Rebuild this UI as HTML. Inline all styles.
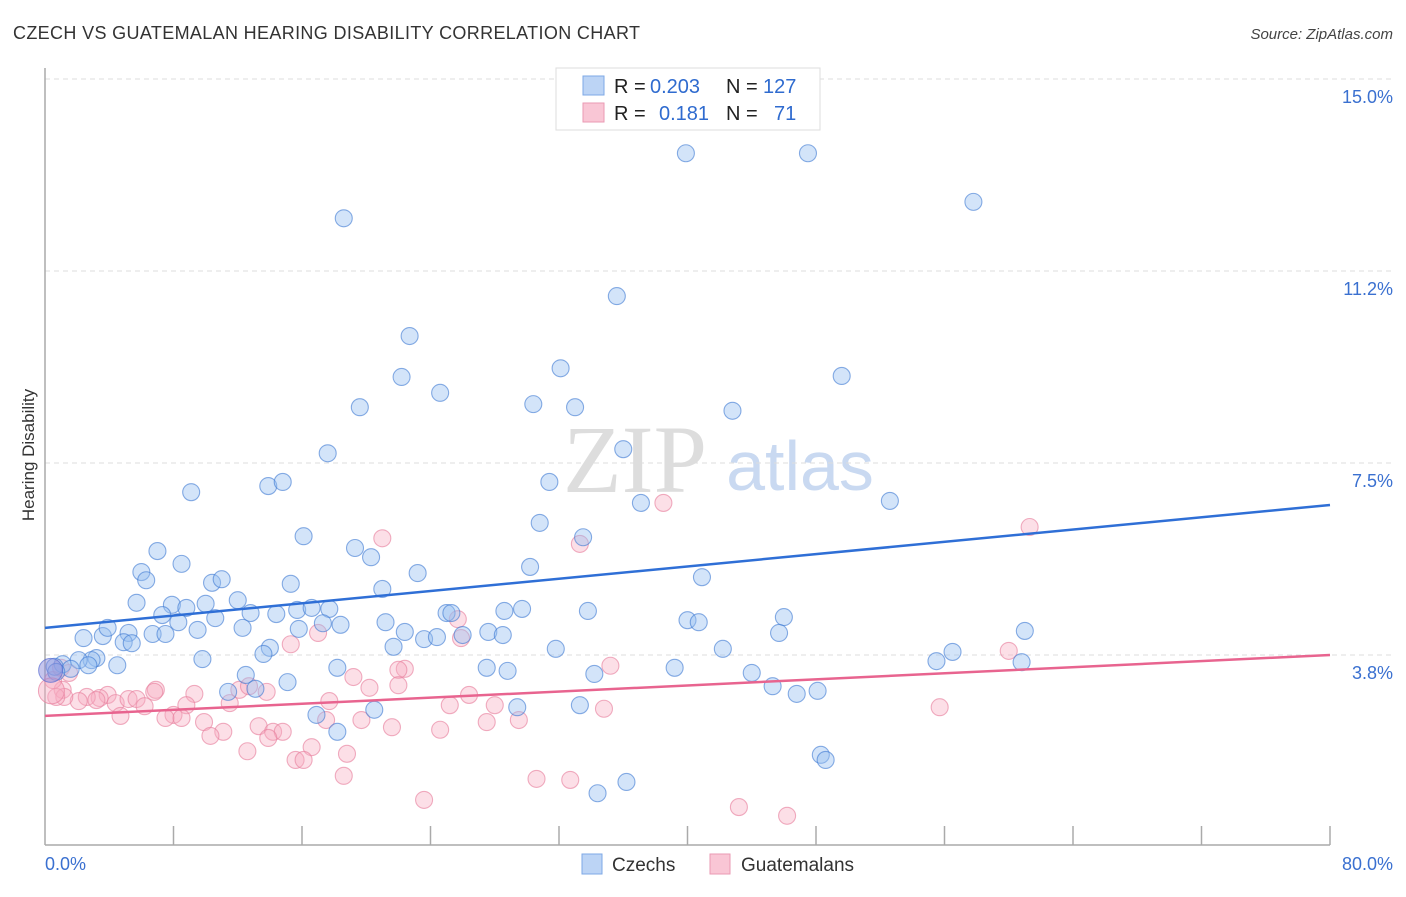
<!DOCTYPE html>
<html><head><meta charset="utf-8"><style>
body{margin:0;background:#fff;font-family:"Liberation Sans",sans-serif}
svg text{font-family:"Liberation Sans",sans-serif}
</style></head><body>
<svg id="chart" width="1406" height="892" xmlns="http://www.w3.org/2000/svg">
<text x="13" y="39" font-size="18" fill="#333" textLength="627">CZECH VS GUATEMALAN HEARING DISABILITY CORRELATION CHART</text>
<text x="1393" y="39" font-size="15" fill="#444" text-anchor="end" font-style="italic">Source: ZipAtlas.com</text>
<text transform="translate(34,455) rotate(-90)" font-size="17" fill="#333" text-anchor="middle">Hearing Disability</text>
<g><text x="635" y="492" font-size="96" fill="#ddd" text-anchor="middle" style="font-family:'Liberation Serif',serif">ZIP</text><text x="800" y="490" font-size="70" fill="#c9d9f1" text-anchor="middle">atlas</text></g>
<g id="grid"></g><g id="axes"></g><g id="pts"></g><g id="lines"></g>
<g>
<rect x="556" y="68" width="264" height="62" fill="#fff" stroke="#ddd"/>
<rect x="583" y="76" width="21" height="19" fill="#bcd4f5" stroke="#7ea8e6"/>
<rect x="583" y="103" width="21" height="19" fill="#f9c6d5" stroke="#ea9ab3"/>
<text x="614" y="93" font-size="20" fill="#222">R =</text>
<text x="650" y="93" font-size="20" fill="#2f6bcf">0.203</text>
<text x="726" y="93" font-size="20" fill="#222">N =</text>
<text x="763" y="93" font-size="20" fill="#2f6bcf">127</text>
<text x="614" y="120" font-size="20" fill="#222">R =</text>
<text x="659" y="120" font-size="20" fill="#2f6bcf">0.181</text>
<text x="726" y="120" font-size="20" fill="#222">N =</text>
<text x="774" y="120" font-size="20" fill="#2f6bcf">71</text>
</g>
<g>
<rect x="582" y="854" width="20" height="20" fill="#bcd4f5" stroke="#7ea8e6"/>
<text x="612" y="871" font-size="19" fill="#333">Czechs</text>
<rect x="710" y="854" width="20" height="20" fill="#f9c6d5" stroke="#ea9ab3"/>
<text x="741" y="871" font-size="19" fill="#333">Guatemalans</text>
</g>
</svg>
<script>
const yTicks=[3.8,7.5,11.2,15.0];
const yTickVals=[3.75,7.5,11.25,15];
const xTickLabels=["0.0%","80.0%"];
const czechX=[39.9,47.5,57.8,18.6,35.6,22.7,22.2,32.1,49.6,24.6,19.6,30.4,33.0,42.8,17.6,36.0,31.4,9.1,13.9,14.8,37.1,52.6,30.8,16.1,33.5,7.0,19.3,20.3,8.5,6.0,6.3,30.2,23.2,40.9,10.4,11.0,15.3,21.0,5.7,7.9,8.8,10.0,12.0,7.3,8.3,10.6,12.8,14.4,15.7,16.6,17.7,25.0,25.3,28.6,29.7,33.8,46.0,17.3,18.4,9.5,12.3,15.8,21.2,22.4,27.6,28.5,26.0,23.6,24.4,6.7,7.5,2.4,3.6,5.2,3.9,4.9,5.4,40.0,40.7,45.7,61.0,14.0,13.6,21.7,31.8,42.2,56.5,9.8,55.5,60.8,3.2,2.9,2.1,1.1,2.7,4.5,0.6,1.6,0.7,18.2,27.5,28.8,34.2,39.2,44.0,12.5,15.1,11.4,13.1,45.3,46.8,48.1,33.3,29.4,20.5,16.9,18.2,48.3,48.6,36.2,34.4];
const czechY=[13.55,13.55,12.60,12.28,10.76,9.98,9.18,9.35,9.20,8.87,8.59,8.65,8.59,8.52,7.69,7.77,7.13,6.93,7.05,7.13,6.72,6.76,6.33,6.07,6.05,5.78,5.84,5.66,5.53,5.37,5.21,5.47,5.35,5.27,5.16,5.23,5.14,5.04,4.77,4.73,4.67,4.75,4.82,4.53,4.39,4.47,4.57,4.55,4.63,4.67,4.65,4.57,4.57,4.61,4.65,4.61,4.49,4.37,4.34,4.24,4.28,4.26,4.39,4.20,4.20,4.14,4.14,4.06,4.10,4.16,4.16,4.08,4.12,4.18,4.28,4.00,3.98,4.43,4.39,4.18,4.22,3.89,3.77,3.91,3.87,3.87,3.81,3.67,3.63,3.61,3.69,3.65,3.65,3.57,3.55,3.55,3.52,3.48,3.42,3.50,3.50,3.44,3.38,3.50,3.40,3.36,3.22,3.03,3.09,3.14,2.99,3.05,2.77,2.73,2.68,2.58,2.25,1.80,1.70,1.27,1.05];
const guatX=[38.5,61.3,21.0,33.3,25.7,25.9,15.3,17.0,35.2,22.4,22.0,19.2,60.0,1.1,0.5,1.0,1.5,6.9,6.8,9.3,3.9,3.4,2.6,3.2,2.1,4.4,5.2,5.7,6.2,4.7,8.8,8.0,7.5,8.5,9.9,11.5,12.1,12.7,13.8,17.7,20.2,22.0,26.4,25.2,28.0,24.6,21.6,19.7,17.5,13.3,14.2,14.8,13.9,11.1,10.3,12.6,16.6,18.8,15.6,16.1,18.6,30.6,32.7,23.6,43.2,46.2,55.7,34.8,29.5,27.5,1.2,0.7];
const guatY=[6.72,6.25,6.03,5.92,4.45,4.08,3.96,4.18,3.54,3.48,3.46,3.32,3.83,3.07,3.26,3.50,3.40,3.07,3.03,2.99,2.97,2.91,2.93,2.87,2.85,2.81,2.89,2.89,2.75,2.56,2.77,2.58,2.52,2.52,2.44,2.81,3.07,3.14,3.03,2.85,3.11,3.16,2.97,2.77,2.77,2.29,2.34,2.48,2.48,2.36,2.25,2.25,2.13,2.25,2.17,1.87,1.95,1.82,1.70,1.70,1.39,1.33,1.31,0.92,0.78,0.61,2.73,2.70,2.48,2.44,2.93,2.93];
const czechTrend=[4.28,6.68];
const guatTrend=[2.56,3.75];
const NS="http://www.w3.org/2000/svg";
const X=v=>45+v*16.0625;
const Y=v=>847-v*51.2;
function mk(tag,attrs,parent){const e=document.createElementNS(NS,tag);for(const k in attrs)e.setAttribute(k,attrs[k]);document.getElementById(parent).appendChild(e);return e;}
yTickVals.forEach((v,i)=>{
 const g=mk('line',{x1:45,x2:1393,y1:Y(v),y2:Y(v),stroke:'#ddd','stroke-dasharray':'5,4'},'grid');
 
 
 const t=mk('text',{x:1393,y:Y(v)+24,'font-size':18,fill:'#3a70d0','text-anchor':'end'},'axes');
 t.textContent=yTicks[i].toFixed(1)+'%';
 
 
});
const ax=mk('line',{x1:45,x2:1330,y1:845,y2:845,stroke:'#aaa','stroke-width':1.5},'axes');


const ay=mk('line',{x1:45,x2:45,y1:68,y2:845,stroke:'#aaa','stroke-width':1.5},'axes');


for(let i=1;i<=10;i++){const t=mk('line',{x1:X(i*8),x2:X(i*8),y1:826,y2:845,stroke:'#aaa','stroke-width':1.5},'axes');
 
 }
const xl0=mk('text',{x:45,y:870,'font-size':18,fill:'#3a70d0'},'axes');xl0.textContent=xTickLabels[0];


const xl1=mk('text',{x:1393,y:870,'font-size':18,fill:'#3a70d0','text-anchor':'end'},'axes');xl1.textContent=xTickLabels[1];


function dots(xs,ys,fill,stroke,name){xs.forEach((x,i)=>{const c=mk('circle',{cx:X(x),cy:Y(ys[i]),r:8.5,fill:fill,stroke:stroke,'stroke-width':1.1},'pts');
 
 });}
dots(guatX,guatY,'rgba(246,170,193,0.38)','rgba(232,130,160,0.65)','guatemalan-point');
dots(czechX,czechY,'rgba(150,190,240,0.42)','rgba(60,120,210,0.6)','czech-point');
const b1=mk('circle',{cx:X(0.4),cy:Y(3.05),r:13,fill:'rgba(246,170,193,0.45)',stroke:'rgba(232,130,160,0.7)'},'pts');


const b2=mk('circle',{cx:X(0.35),cy:Y(3.45),r:12,fill:'rgba(140,140,220,0.5)',stroke:'rgba(90,110,210,0.7)'},'pts');


const l1=mk('line',{x1:X(0),x2:X(80),y1:Y(czechTrend[0]),y2:Y(czechTrend[1]),stroke:'#2f6fd6','stroke-width':2.5},'lines');


const l2=mk('line',{x1:X(0),x2:X(80),y1:Y(guatTrend[0]),y2:Y(guatTrend[1]),stroke:'#e8648f','stroke-width':2.5},'lines');


</script>
</body></html>
